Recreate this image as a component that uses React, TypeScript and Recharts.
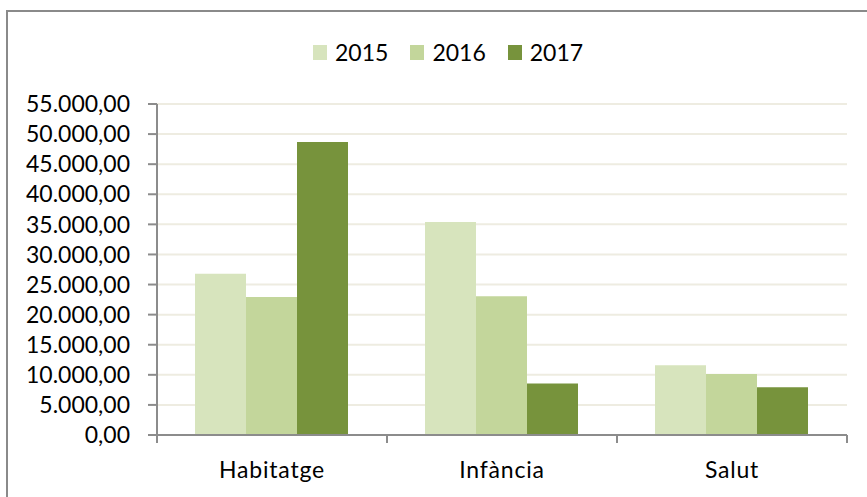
import { Bar, BarChart, CartesianGrid, Legend, XAxis, YAxis } from "recharts";

const categories = ["Habitatge", "Infància", "Salut"];
const values2015 = [26800, 35400, 11600];
const values2016 = [22950, 23050, 10150];
const values2017 = [48700, 8550, 7950];
const yTicks = [0, 5000, 10000, 15000, 20000, 25000, 30000, 35000, 40000, 45000, 50000, 55000];

const series = [
  { key: "2015", color: "#D7E4BD" },
  { key: "2016", color: "#C3D69B" },
  { key: "2017", color: "#77933C" },
];

const data = categories.map((name, i) => ({
  name,
  "2015": values2015[i],
  "2016": values2016[i],
  "2017": values2017[i],
}));

const W = 867;
const H = 497;
const PLOT_LEFT = 157;
const PLOT_RIGHT = 847;
const BAND = (PLOT_RIGHT - PLOT_LEFT) / categories.length;
const AXIS = "#8c8c8c";
const FONT = "Lato, 'Open Sans', sans-serif";

const fmt = (v: number) =>
  Math.round(v).toString().replace(/\B(?=(\d{3})+(?!\d))/g, ".") + ",00";

function CategoryTick(props: any) {
  const { x, y, payload, index } = props;
  return (
    <g>
      <line x1={x - BAND / 2} x2={x - BAND / 2} y1={y} y2={y + 8} stroke={AXIS} strokeWidth={2} />
      {index === categories.length - 1 && (
        <line x1={x + BAND / 2} x2={x + BAND / 2} y1={y} y2={y + 8} stroke={AXIS} strokeWidth={2} />
      )}
      <text
        x={x}
        y={y + 43}
        textAnchor="middle"
        fill="#000"
        fontSize={23}
        fontFamily={FONT}
        letterSpacing={0.8}
      >
        {payload.value}
      </text>
    </g>
  );
}

function LegendContent() {
  return (
    <div style={{ display: "flex", alignItems: "center", fontFamily: FONT, fontSize: 23, color: "#000" }}>
      {series.map((s) => (
        <div key={s.key} style={{ display: "flex", alignItems: "center", marginRight: 22 }}>
          <span style={{ width: 14, height: 15, background: s.color, marginRight: 8, display: "inline-block" }} />
          <span>{s.key}</span>
        </div>
      ))}
    </div>
  );
}

export default function App() {
  return (
    <div style={{ position: "fixed", left: 0, top: 0, width: W, height: H, overflow: "hidden", background: "#fff" }}>
      <div
        style={{
          position: "absolute",
          left: 6,
          top: 10,
          width: 920,
          height: 600,
          border: "2px solid #8a8a8a",
        }}
      />
      <div style={{ position: "absolute", left: 0, top: 0 }}>
        <BarChart
          width={W}
          height={H}
          data={data}
          margin={{ top: 104, right: W - PLOT_RIGHT, bottom: 0, left: 0 }}
          barGap={0}
          barCategoryGap={38}
        >
          <CartesianGrid vertical={false} stroke="#EEECE1" strokeWidth={2} />
          <XAxis
            dataKey="name"
            height={62}
            axisLine={{ stroke: AXIS, strokeWidth: 2 }}
            tickLine={false}
            tickSize={0}
            tickMargin={0}
            tick={<CategoryTick />}
            interval={0}
          />
          <YAxis
            width={PLOT_LEFT}
            domain={[0, 55000]}
            ticks={yTicks}
            interval={0}
            tickFormatter={fmt}
            axisLine={{ stroke: AXIS, strokeWidth: 2 }}
            tickLine={{ stroke: AXIS, strokeWidth: 2 }}
            tickSize={9}
            tickMargin={18}
            tick={{ fill: "#000", fontSize: 23, fontFamily: FONT }}
          />
          <Legend
            layout="horizontal"
            verticalAlign="middle"
            align="center"
            content={<LegendContent />}
            wrapperStyle={{ top: 38, left: 313, width: 400 }}
          />
          {series.map((s) => (
            <Bar key={s.key} dataKey={s.key} fill={s.color} isAnimationActive={false} />
          ))}
        </BarChart>
      </div>
    </div>
  );
}
